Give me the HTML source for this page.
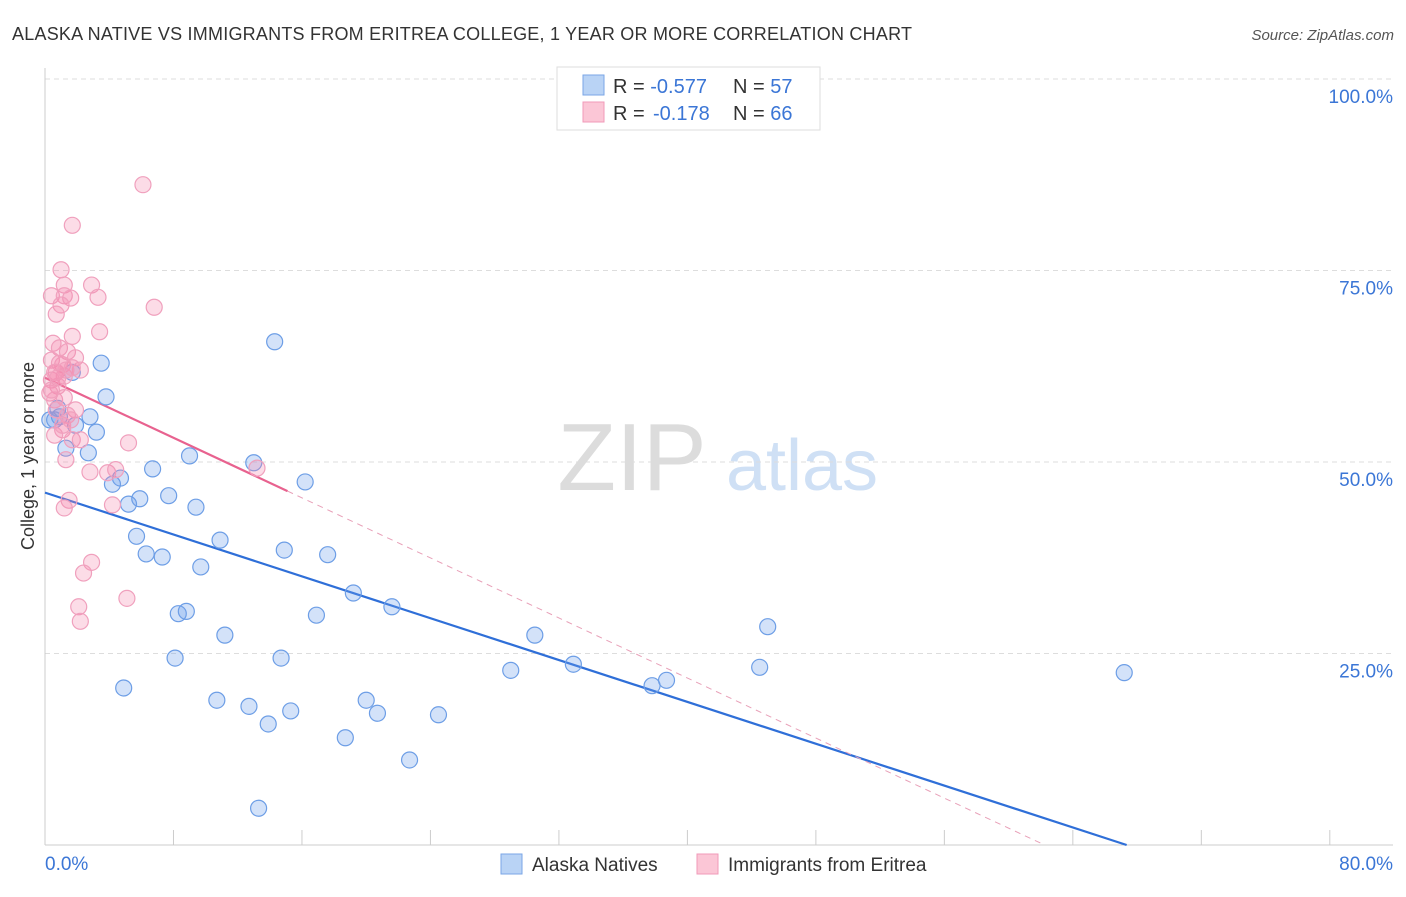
<!DOCTYPE html>
<html><head><meta charset="utf-8"><style>
body{margin:0;background:#fff;font-family:"Liberation Sans",sans-serif}
svg text{font-family:"Liberation Sans",sans-serif}
</style></head><body>
<svg id="c" width="1406" height="892" xmlns="http://www.w3.org/2000/svg">
<text x="12" y="40" font-size="18" fill="#333" textLength="900">ALASKA NATIVE VS IMMIGRANTS FROM ERITREA COLLEGE, 1 YEAR OR MORE CORRELATION CHART</text>
<text x="1394" y="40" font-size="15" fill="#555" font-style="italic" text-anchor="end">Source: ZipAtlas.com</text>
<g>
<text x="632" y="490" font-size="96" fill="#dcdcdc" font-family="Liberation Serif" text-anchor="middle">ZIP</text>
<text x="802" y="490" font-size="72" fill="#cfe0f5" text-anchor="middle">atlas</text>
</g>
<g id="grid"></g>
<g id="axes"></g>
<g id="lines"></g>
<g id="pts"></g>
<text transform="translate(34,456) rotate(-90)" font-size="18" fill="#333" text-anchor="middle">College, 1 year or more</text>
<g>
<rect x="557" y="67" width="263" height="63" fill="#fff" stroke="#ddd"/>
<rect x="583" y="75" width="21" height="20" fill="#b9d3f5" stroke="#7aa6e6"/>
<rect x="583" y="102" width="21" height="20" fill="#fbc6d6" stroke="#f09ab8"/>
<text x="613" y="93" font-size="20" fill="#333">R = <tspan fill="#3b76d6">-0.577</tspan><tspan x="733">N = </tspan><tspan fill="#3b76d6">57</tspan></text>
<text x="613" y="120" font-size="20" fill="#333">R = <tspan x="653" fill="#3b76d6">-0.178</tspan><tspan x="733">N = </tspan><tspan fill="#3b76d6">66</tspan></text>
</g>
<g>
<rect x="501" y="854" width="21" height="20" fill="#b9d3f5" stroke="#7aa6e6"/>
<text x="532" y="871" font-size="19" fill="#333">Alaska Natives</text>
<rect x="697" y="854" width="21" height="20" fill="#fbc6d6" stroke="#f09ab8"/>
<text x="728" y="871" font-size="19" fill="#333">Immigrants from Eritrea</text>
</g>
</svg>
<script>
const blueX=[0.6,0.8,1.7,3.5,3.8,2.8,1.9,3.2,1.3,2.7,6.7,4.7,4.2,5.9,5.2,7.7,9.4,9.0,13.0,16.2,5.7,6.3,7.3,9.7,10.9,14.9,17.6,14.3,8.3,8.8,11.2,8.1,4.9,10.7,12.7,13.9,14.7,15.3,16.9,19.2,21.6,20.0,20.7,18.7,22.7,24.5,13.3,30.5,29.0,32.9,37.8,38.7,45.0,44.5,67.2,0.9,0.3];
const blueY=[55.5,57.0,61.7,62.9,58.5,55.9,54.8,53.9,51.8,51.2,49.1,47.9,47.1,45.2,44.5,45.6,44.1,50.8,49.9,47.4,40.3,38.0,37.6,36.3,39.8,38.5,37.9,65.7,30.2,30.5,27.4,24.4,20.5,18.9,18.1,15.8,24.4,17.5,30.0,32.9,31.1,18.9,17.2,14.0,11.1,17.0,4.8,27.4,22.8,23.6,20.8,21.5,28.5,23.2,22.5,55.9,55.5];
const pinkX=[6.1,1.7,1.0,1.2,2.9,0.4,1.2,1.6,3.3,6.8,1.0,0.7,1.7,3.4,0.5,0.9,0.4,1.4,1.9,1.1,2.2,0.7,1.2,0.4,0.8,0.3,0.6,1.2,1.9,0.7,1.4,1.1,0.6,1.7,2.2,5.2,1.3,2.8,3.9,4.4,13.2,4.2,1.5,1.2,2.9,2.4,5.1,2.1,2.2,0.9,0.6,1.3,1.7,0.8,0.4,1.1,1.6];
const pinkY=[86.2,80.9,75.1,73.1,73.1,71.7,71.7,71.4,71.5,70.2,70.5,69.3,66.4,67.0,65.5,64.9,63.3,64.4,63.6,62.7,62.0,61.7,61.2,60.7,59.9,59.0,58.1,58.4,56.8,56.8,56.1,54.2,53.5,52.9,52.9,52.5,50.3,48.7,48.6,49.0,49.2,44.4,45.0,44.0,36.9,35.5,32.2,31.1,29.2,62.9,61.7,62.0,62.3,61.0,59.4,54.8,55.5];
const yTicks=[25,50,75,100];
const xTicks=[0,8,16,24,32,40,48,56,64,72,80];
const blueFit=[46.0,-0.683];
const pinkFit=[61.0,-0.98];
const X=v=>45+v*16.06, Y=v=>845-v*7.66;
const NS='http://www.w3.org/2000/svg';
function mk(p,t,a){const e=document.createElementNS(NS,t);for(const k in a)e.setAttribute(k,a[k]);document.getElementById(p).appendChild(e);return e;}
yTicks.forEach(t=>{
 const l=mk('grid','line',{x1:45,x2:1393,y1:Y(t),y2:Y(t),stroke:'#ddd','stroke-dasharray':'5,4'});
 
 
 const tx=mk('grid','text',{x:1393,y:Y(t)+24,'font-size':19,fill:'#3b76d6','text-anchor':'end'});
 tx.textContent=t.toFixed(1)+'%';
 
 
});
const ya=mk('axes','line',{x1:45,x2:45,y1:68,y2:845,stroke:'#ccc'});


const xa=mk('axes','line',{x1:45,x2:1393,y1:845,y2:845,stroke:'#ccc'});


xTicks.forEach(t=>{
 const l=mk('axes','line',{x1:X(t),x2:X(t),y1:830,y2:845,stroke:'#ccc'});
 
 
});
[['0.0%',45,'start'],['80.0%',1393,'end']].forEach(d=>{
 const tx=mk('axes','text',{x:d[1],y:870,'font-size':19,fill:'#3b76d6','text-anchor':d[2]});
 tx.textContent=d[0];
 
 
});
function fitLine(f,x0,x1,color,dash,name){
 const l=mk('lines','line',{x1:X(x0),y1:Y(f[0]+f[1]*x0),x2:X(x1),y2:Y(f[0]+f[1]*x1),stroke:color,'stroke-width':dash?1:2.2});
 if(dash)l.setAttribute('stroke-dasharray','6,5');
 
 
}
fitLine(blueFit,0,-blueFit[0]/blueFit[1],'#2f6fd8',false,'alaska-trend-line');
fitLine(pinkFit,15.1,-pinkFit[0]/pinkFit[1],'#e8a0b8',true,'eritrea-trend-extension');
fitLine(pinkFit,0,15.1,'#e8628f',false,'eritrea-trend-line');
blueX.forEach((v,i)=>{
 const c=mk('pts','circle',{cx:X(v),cy:Y(blueY[i]),r:8,fill:'rgba(110,160,235,0.3)',stroke:'#6d9ee6','stroke-width':1.2});
 
 
});
pinkX.forEach((v,i)=>{
 const c=mk('pts','circle',{cx:X(v),cy:Y(pinkY[i]),r:8,fill:'rgba(245,140,175,0.3)',stroke:'#f0a0bd','stroke-width':1.2});
 
 
});
</script>
</body></html>
